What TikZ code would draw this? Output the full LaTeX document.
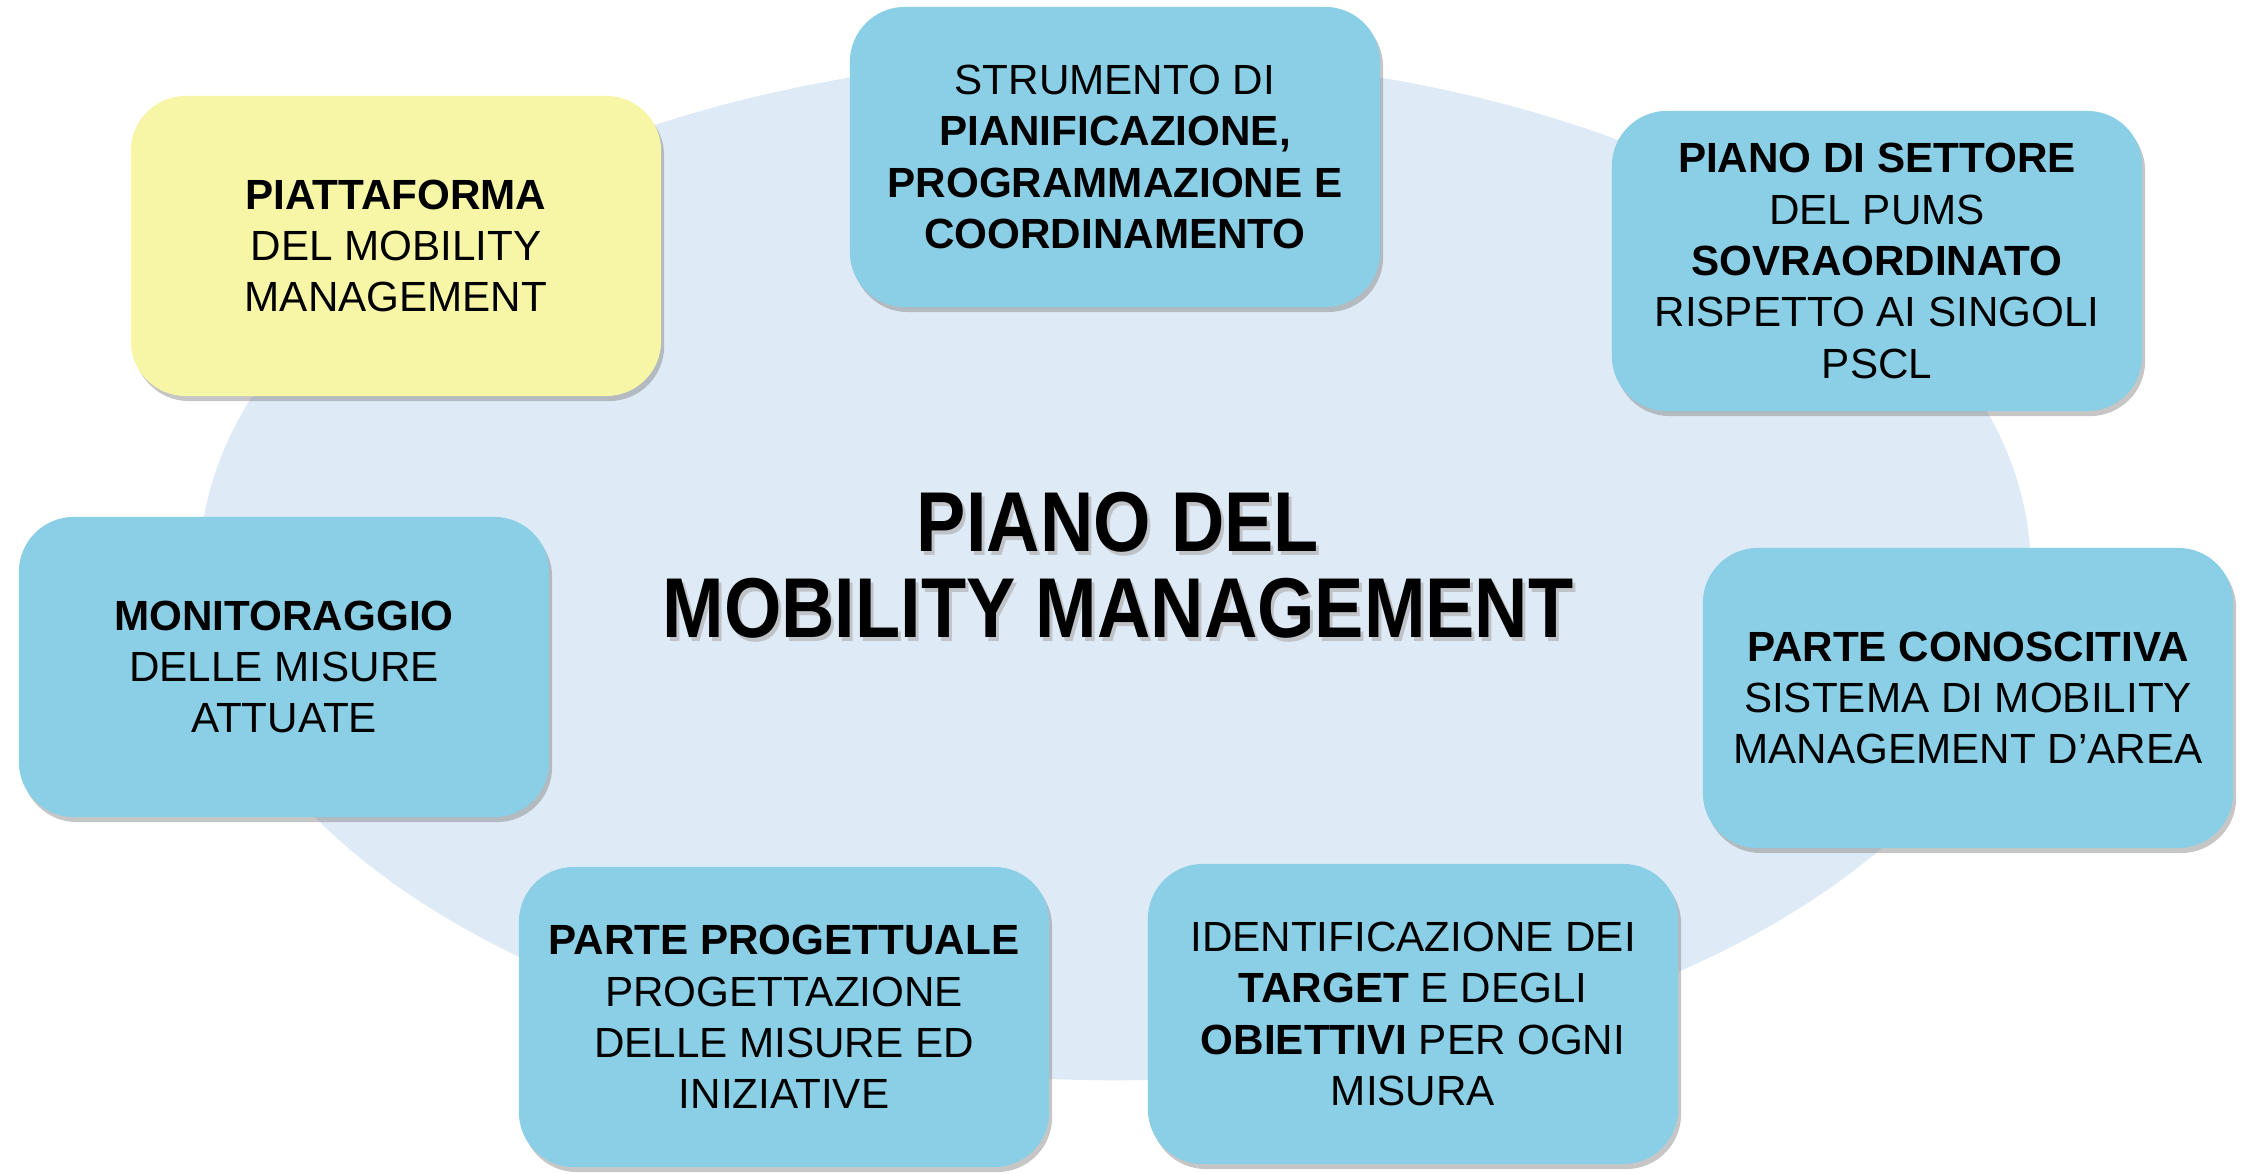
\documentclass[tikz,border=0pt]{standalone}
\usepackage{fontspec}
\setmainfont{Liberation Sans}
\usepackage{graphicx}
\usetikzlibrary{shadows}
\definecolor{boxblue}{RGB}{139,207,230}
\definecolor{boxyellow}{RGB}{247,245,166}
\definecolor{ovalblue}{RGB}{222,234,246}
\newcommand{\tallline}[1]{\scalebox{1}[1.15]{#1}}

\begin{document}
\begin{tikzpicture}[
        x=0.01cm, y=-0.01cm,
        box/.style={rectangle, fill=boxblue, minimum width=5.3cm, minimum height=3cm, align=center, rounded corners=0.55cm, font=\fontsize{12}{14.6}\selectfont, drop shadow={shadow xshift=0.03cm, shadow yshift=-0.05cm, opacity=0.45}},
        title/.style={align=center, font=\fontsize{21}{24.5}\selectfont\bfseries}
    ]
        \useasboundingbox (0,0) rectangle (2242,1174);
        \fill[ovalblue] (1115,568) ellipse [x radius=9.15cm, y radius=5.12cm];

        \node[title, text=black!30, text opacity=0.7] (titleshadow) at (1121,569) {\tallline{PIANO DEL}\\\tallline{MOBILITY MANAGEMENT}};
        \node[title] (title) at (1118,565) {\tallline{PIANO DEL}\\\tallline{MOBILITY MANAGEMENT}};

        \node[box, fill=boxyellow] (piattaforma) at (396,246) {\textbf{PIATTAFORMA}\\DEL MOBILITY\\MANAGEMENT};
        \node[box] (strumento) at (1115,157) {STRUMENTO DI\\\textbf{PIANIFICAZIONE,}\\\textbf{PROGRAMMAZIONE E}\\\textbf{COORDINAMENTO}};
        \node[box] (settore) at (1877,261) {\textbf{PIANO DI SETTORE}\\DEL PUMS\\\textbf{SOVRAORDINATO}\\RISPETTO AI SINGOLI\\PSCL};
        \node[box] (conoscitiva) at (1968,698) {\textbf{PARTE CONOSCITIVA}\\SISTEMA DI MOBILITY\\MANAGEMENT D’AREA};
        \node[box] (target) at (1413,1014) {IDENTIFICAZIONE DEI\\\textbf{TARGET} E DEGLI\\\textbf{OBIETTIVI} PER OGNI\\MISURA};
        \node[box] (progettuale) at (784,1017) {\textbf{PARTE PROGETTUALE}\\PROGETTAZIONE\\DELLE MISURE ED\\INIZIATIVE};
        \node[box] (monitoraggio) at (284,667) {\textbf{MONITORAGGIO}\\DELLE MISURE\\ATTUATE};
    \end{tikzpicture}
\end{document}
